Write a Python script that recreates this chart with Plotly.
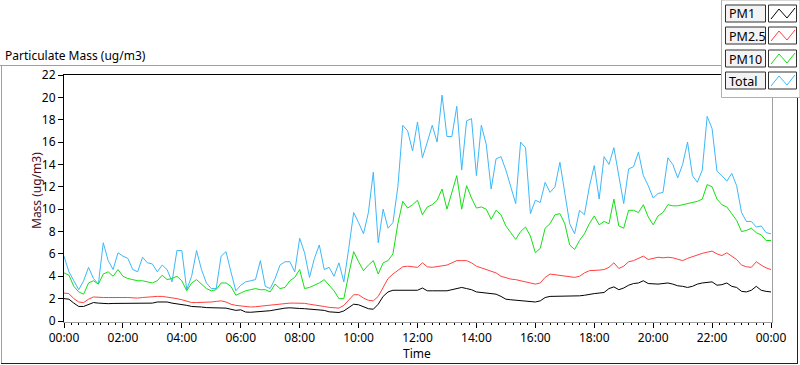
import plotly.graph_objects as go
import pandas as pd

# ---------------- data (10-minute samples, 00:00 -> 24:00) ----------------
start_time = "2024-01-01 00:00"
sample_freq = "10min"

pm1 = [2.0, 1.95, 1.6, 1.3, 1.3, 1.45, 1.65, 1.6, 1.55, 1.55, 1.57, 1.57, 1.55, 1.55, 1.55, 1.55, 1.55, 1.55,
       1.6, 1.7, 1.7, 1.7, 1.6, 1.55, 1.5, 1.4, 1.3, 1.3, 1.25, 1.2, 1.2, 1.2, 1.2, 1.15, 1.05, 0.95, 1.0,
       0.8, 0.78, 0.8, 0.85, 0.88, 0.92, 1.0, 1.1, 1.15, 1.18, 1.18, 1.12, 1.1, 1.05, 1.05, 1.0, 0.95, 0.82,
       0.78, 0.76, 0.9, 1.2, 1.5, 1.45, 1.3, 1.1, 1.05, 1.5, 2.2, 2.6, 2.75, 2.75, 2.75, 2.75, 2.75,
       2.75, 2.95, 2.7, 2.7, 2.7, 2.7, 2.7, 2.8, 2.9, 3.0, 2.9, 2.8, 2.6, 2.55, 2.5, 2.5, 2.4, 2.2, 1.95,
       1.9, 1.85, 1.85, 1.8, 1.75, 1.7, 1.8, 2.1, 2.2, 2.2, 2.2, 2.2, 2.22, 2.25, 2.25, 2.3, 2.4,
       2.45, 2.5, 2.55, 2.9, 3.05, 2.8, 2.95, 3.2, 3.35, 3.4, 3.6, 3.35, 3.3, 3.3, 3.35, 3.4, 3.3, 3.15,
       3.1, 3.0, 3.1, 3.3, 3.4, 3.45, 3.5, 3.2, 3.25, 3.4, 3.1, 3.0, 2.65, 2.6, 2.75, 3.1, 2.75, 2.65, 2.6]

pm25 = [2.5, 2.45, 2.0, 1.7, 1.65, 1.95, 2.15, 2.1, 2.1, 2.1, 2.12, 2.12, 2.1, 2.1, 2.05, 2.05, 2.1, 2.15,
        2.2, 2.2, 2.2, 2.15, 2.1, 2.0, 1.9, 1.75, 1.65, 1.65, 1.65, 1.65, 1.7, 1.75, 1.8, 1.7, 1.5, 1.4, 1.35,
        1.25, 1.25, 1.28, 1.33, 1.38, 1.45, 1.5, 1.55, 1.6, 1.6, 1.6, 1.6, 1.58, 1.5, 1.45, 1.38, 1.3, 1.22,
        1.18, 1.15, 1.4, 1.9, 2.35, 2.35, 2.05, 1.85, 1.8, 2.2, 3.0, 3.8, 4.2, 4.55, 4.85, 4.9, 4.85,
        4.8, 5.2, 4.85, 4.8, 4.85, 4.95, 5.0, 5.2, 5.4, 5.4, 5.4, 5.2, 4.9, 4.75, 4.6, 4.5, 4.3, 4.0, 3.85,
        3.75, 3.7, 3.6, 3.5, 3.4, 3.3, 3.4, 3.9, 4.2, 4.15, 4.05, 4.0, 3.95, 3.9, 4.0, 4.3, 4.5,
        4.5, 4.55, 4.6, 4.8, 5.2, 4.7, 4.9, 5.3, 5.4, 5.6, 5.8, 5.5, 5.6, 5.7, 5.65, 5.7, 5.65, 5.5,
        5.4, 5.6, 5.75, 5.95, 6.05, 6.15, 6.25, 6.0, 5.85, 6.1, 5.8, 5.5, 5.0, 4.85, 4.8, 5.3, 5.0, 4.75, 4.6]

pm10 = [4.3, 4.1, 3.1, 2.6, 2.4, 3.4, 3.6, 3.3, 4.2, 4.4, 4.0, 4.6, 4.0, 3.8, 3.7, 3.6, 3.6, 3.5,
        3.4, 3.6, 4.1, 3.7, 3.8, 4.0, 3.6, 2.7, 3.4, 3.7, 3.3, 2.9, 2.7, 2.8, 3.4, 3.4, 3.1, 2.3, 2.5,
        2.7, 2.8, 2.9, 2.8, 2.8, 2.6, 3.3, 2.9, 3.0, 3.6, 3.9, 4.6, 2.9, 3.0, 3.2, 3.4, 3.7, 3.2,
        2.7, 2.0, 2.0, 4.2, 6.2, 5.3, 4.5, 5.0, 5.4, 4.2, 5.2, 5.4, 6.0, 8.7, 10.7, 10.1, 10.4,
        10.8, 9.5, 10.2, 10.4, 10.8, 11.8, 10.0, 11.4, 13.0, 10.0, 12.1, 11.0, 10.1, 10.2, 10.0, 9.1, 9.9, 9.5, 8.5,
        7.9, 7.3, 8.0, 8.4, 7.6, 6.1, 6.5, 8.3, 8.7, 9.5, 9.6, 8.7, 6.8, 6.4, 7.2, 7.8, 8.7,
        9.4, 8.6, 8.9, 8.7, 10.9, 8.5, 8.3, 9.9, 9.9, 9.7, 10.4, 9.3, 8.6, 9.4, 9.7, 10.4, 10.3, 10.3,
        10.4, 10.5, 10.6, 10.7, 10.9, 12.2, 12.0, 10.9, 10.4, 10.2, 9.6, 9.0, 8.0, 8.1, 8.3, 7.9, 7.7, 7.2, 7.2]

total = [5.8, 4.4, 3.6, 2.8, 3.6, 4.8, 3.8, 3.3, 7.0, 5.4, 4.6, 6.1, 5.8, 5.6, 4.6, 4.4, 5.7, 5.2,
         5.1, 4.4, 5.0, 4.6, 3.5, 6.3, 6.3, 2.8, 4.0, 6.3, 4.6, 3.4, 2.9, 2.9, 5.8, 6.2, 4.4, 2.7, 3.2,
         3.5, 3.6, 3.7, 5.4, 3.1, 2.9, 3.8, 5.0, 5.3, 5.3, 4.4, 7.4, 6.1, 3.9, 5.6, 6.8, 4.6, 4.8,
         4.0, 5.2, 3.5, 6.5, 9.7, 8.8, 7.8, 9.7, 13.3, 7.0, 10.0, 8.3, 8.8, 12.0, 17.5, 17.0, 15.2,
         17.8, 14.6, 16.0, 17.5, 16.0, 20.2, 16.5, 16.5, 19.2, 13.5, 17.9, 18.1, 13.0, 17.5, 15.8, 11.8, 14.5, 14.7, 13.5,
         11.9, 10.5, 16.0, 15.5, 9.6, 10.8, 10.6, 12.4, 11.5, 12.0, 14.2, 11.6, 8.7, 7.8, 9.9, 9.5, 12.0,
         13.9, 10.9, 14.7, 14.0, 15.5, 12.9, 10.5, 13.6, 13.8, 15.1, 13.0, 12.1, 11.0, 11.4, 11.5, 14.6, 14.0, 12.8,
         14.0, 16.0, 13.0, 12.4, 13.5, 18.3, 17.2, 13.4, 13.0, 12.5, 13.2, 12.1, 9.7, 8.9, 8.9, 8.4, 8.5, 7.9, 7.8]

series_names = ["PM1", "PM2.5", "PM10", "Total"]
series_colors = ["#000000", "#ff4040", "#12e012", "#3cb8f8"]
y_ticks = list(range(0, 23, 2))

times = pd.date_range(start_time, periods=len(pm1), freq=sample_freq)
x_start = times[0]
x_end = times[-1]

FONT = "Noto Sans"

fig = go.Figure()
# Total drawn first (behind), PM1 last (on top)
for name, vals, col in reversed(list(zip(series_names, [pm1, pm25, pm10, total], series_colors))):
    fig.add_trace(go.Scatter(x=times, y=vals, mode="lines", name=name,
                             line=dict(color=col, width=1), showlegend=False))

# ---- pixel helpers (layout geometry only) ----
L, R, T, B = 64, 771, 75, 321
def px(x):
    return (x - L) / (R - L)
def py(y):
    return (B - y) / (B - T)

shapes = []
def line(x0, y0, x1, y1, color, w=1):
    shapes.append(dict(type="line", xref="paper", yref="paper", x0=px(x0), y0=py(y0),
                       x1=px(x1), y1=py(y1), line=dict(color=color, width=w), layer="above"))

# outer frame
line(0, 65.5, 722, 65.5, "#a0a0a0")
line(1.5, 65, 1.5, 363, "#a0a0a0")
line(1, 363.5, 797, 363.5, "#202020")
line(797.5, 97, 797.5, 364, "#202020")
# plot frame (sunken look)
line(63.5, 74, 63.5, 322, "#000000")
line(63, 74.5, 722, 74.5, "#000000")
line(772.5, 97, 772.5, 322.5, "#a0a0a0")
line(63, 322.5, 773, 322.5, "#a0a0a0")

# legend panel
shapes.append(dict(type="rect", xref="paper", yref="paper", x0=px(721.5), y0=py(0), x1=px(800), y1=py(97.5),
                   fillcolor="#ffffff", line=dict(color="#b0b0b0", width=1), layer="above"))

annotations = []
row_tops = [5, 27, 50, 72]
for name, col, top in zip(series_names, series_colors, row_tops):
    h = 17
    shapes.append(dict(type="rect", xref="paper", yref="paper", x0=px(725.5), y0=py(top), x1=px(765.5),
                       y1=py(top + h), fillcolor="#f3f3f3", line=dict(color="#303030", width=1), layer="above"))
    shapes.append(dict(type="rect", xref="paper", yref="paper", x0=px(768.5), y0=py(top), x1=px(796.5),
                       y1=py(top + h), fillcolor="#ffffff", line=dict(color="#303030", width=1), layer="above"))
    pts = [(771, top + 14), (779, top + 4), (787, top + 13), (795, top + 3)]
    path = "M " + " L ".join(f"{px(a)},{py(b)}" for a, b in pts)
    shapes.append(dict(type="path", xref="paper", yref="paper", path=path,
                       line=dict(color=col, width=1), layer="above"))
    annotations.append(dict(text=name, xref="paper", yref="paper", x=px(727), y=py(top + h / 2 + 0.5),
                            xanchor="left", yanchor="middle", showarrow=False,
                            font=dict(family=FONT, size=12.5, color="#000000")))

annotations.append(dict(text="Particulate Mass (ug/m3)", xref="paper", yref="paper", x=px(3), y=py(55),
                        xanchor="left", yanchor="middle", showarrow=False,
                        font=dict(family=FONT, size=12, color="#000000")))
annotations.append(dict(text="Mass (ug/m3)", xref="paper", yref="paper", x=px(36), y=py(191),
                        xanchor="center", yanchor="middle", textangle=-90, showarrow=False,
                        font=dict(family=FONT, size=12, color="#4a1020")))
annotations.append(dict(text="Time", xref="paper", yref="paper", x=px(417), y=py(353),
                        xanchor="center", yanchor="middle", showarrow=False,
                        font=dict(family=FONT, size=12, color="#000000")))

fig.update_layout(
    width=800, height=365,
    margin=dict(l=L, r=800 - R, t=T, b=365 - B, pad=0),
    paper_bgcolor="#ffffff", plot_bgcolor="#ffffff",
    font=dict(family=FONT, size=12, color="#000000"),
    shapes=shapes, annotations=annotations,
    showlegend=False,
    xaxis=dict(type="date", range=[x_start, x_end], dtick=2 * 3600 * 1000, tick0=x_start,
               tickformat="%H:%M", ticks="outside", ticklen=6, tickcolor="#000000",
               showgrid=False, zeroline=False, showline=False,
               tickfont=dict(family=FONT, size=12, color="#000000"),
               minor=dict(dtick=15 * 60 * 1000, tick0=x_start, ticks="outside", ticklen=3,
                          tickcolor="#000000", showgrid=False)),
    yaxis=dict(range=[0, 22], tickvals=y_ticks, ticks="outside", ticklen=5, tickcolor="#000000",
               showgrid=False, zeroline=False, showline=False,
               tickfont=dict(family=FONT, size=12, color="#000000")),
)

fig.write_html("out.html", config={"displayModeBar": False},
               post_script="document.body.style.margin='0';document.body.style.overflow='hidden';")
